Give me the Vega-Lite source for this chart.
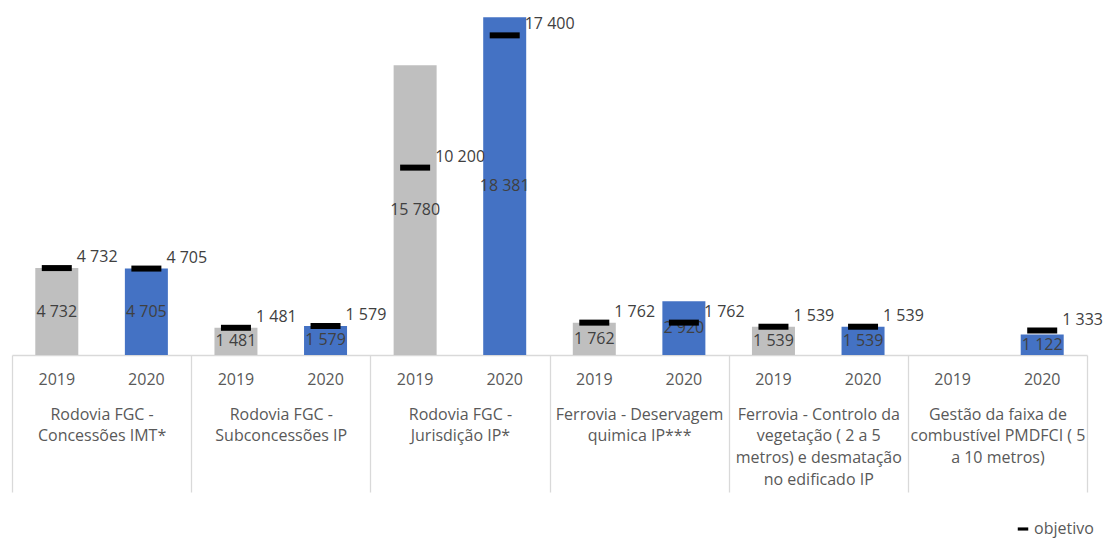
{
  "$schema": "https://vega.github.io/schema/vega-lite/v6.json",
  "width": 1075,
  "height": 338,
  "autosize": {"type": "none"},
  "padding": {"left": 12, "top": 17, "right": 21, "bottom": 183},
  "background": "white",
  "config": {
    "view": {"stroke": null},
    "font": "Open Sans",
    "locale": {"number": {"decimal": ",", "thousands": " ", "grouping": [3], "currency": ["", " €"]}},
    "text": {"font": "Open Sans", "fontSize": 16, "color": "#404040"}
  },
  "data": {
    "values": [
      {"cat": "Rodovia FGC -\nConcessões IMT*", "year": "2019", "value": 4732, "target": 4732},
      {"cat": "Rodovia FGC -\nConcessões IMT*", "year": "2020", "value": 4705, "target": 4705},
      {"cat": "Rodovia FGC -\nSubconcessões IP", "year": "2019", "value": 1481, "target": 1481},
      {"cat": "Rodovia FGC -\nSubconcessões IP", "year": "2020", "value": 1579, "target": 1579},
      {"cat": "Rodovia FGC -\nJurisdição IP*", "year": "2019", "value": 15780, "target": 10200},
      {"cat": "Rodovia FGC -\nJurisdição IP*", "year": "2020", "value": 18381, "target": 17400},
      {"cat": "Ferrovia - Deservagem\nquimica IP***", "year": "2019", "value": 1762, "target": 1762},
      {"cat": "Ferrovia - Deservagem\nquimica IP***", "year": "2020", "value": 2920, "target": 1762},
      {"cat": "Ferrovia - Controlo da\nvegetação ( 2 a 5\nmetros) e desmatação\nno edificado IP", "year": "2019", "value": 1539, "target": 1539},
      {"cat": "Ferrovia - Controlo da\nvegetação ( 2 a 5\nmetros) e desmatação\nno edificado IP", "year": "2020", "value": 1539, "target": 1539},
      {"cat": "Gestão da faixa de\ncombustível PMDFCI ( 5\na 10 metros)", "year": "2019", "value": null, "target": null},
      {"cat": "Gestão da faixa de\ncombustível PMDFCI ( 5\na 10 metros)", "year": "2020", "value": 1122, "target": 1333}
    ]
  },
  "encoding": {
    "x": {
      "field": "cat",
      "type": "nominal",
      "sort": null,
      "scale": {"paddingInner": 0, "paddingOuter": 0},
      "axis": {
        "title": null,
        "labelAngle": 0,
        "labelExpr": "split(datum.label, '\\n')",
        "labelFont": "Open Sans",
        "labelFontSize": 16,
        "labelColor": "#595959",
        "labelLineHeight": 21.7,
        "labelBaseline": "top",
        "labelPadding": -86,
        "labelLimit": 0,
        "labelOverlap": false,
        "tickBand": "extent",
        "tickSize": 137,
        "tickColor": "#d9d9d9",
        "tickWidth": 1.3,
        "domainColor": "#d9d9d9",
        "domainWidth": 1.3
      }
    },
    "xOffset": {"field": "year", "type": "nominal", "scale": {"paddingInner": 0.52, "paddingOuter": 0.26}}
  },
  "layer": [
    {
      "mark": {"type": "bar"},
      "encoding": {
        "y": {"field": "value", "type": "quantitative", "scale": {"domain": [0, 18400]}, "axis": null},
        "fill": {"field": "year", "type": "nominal", "scale": {"domain": ["2019", "2020"], "range": ["#BFBFBF", "#4472C4"]}, "legend": null}
      }
    },
    {
      "mark": {"type": "text", "baseline": "middle"},
      "encoding": {
        "y": {"field": "value", "type": "quantitative", "scale": {"domain": [0, 36800]}, "axis": null},
        "text": {"field": "value", "type": "quantitative", "format": ",d"}
      }
    },
    {
      "mark": {"type": "tick", "size": 30, "thickness": 6, "opacity": 1},
      "encoding": {
        "y": {"field": "target", "type": "quantitative", "scale": {"domain": [0, 18400]}, "axis": null},
        "color": {
          "datum": "objetivo",
          "scale": {"range": ["#000000"]},
          "legend": {
            "title": null,
            "orient": "none",
            "legendX": 1003,
            "legendY": 504,
            "padding": 0,
            "symbolType": "M-1,-0.3H1V0.3H-1Z",
            "symbolSize": 110,
            "symbolFillColor": "#000000",
            "symbolOpacity": 1,
            "symbolStrokeWidth": 0,
            "labelOffset": 3,
            "labelFont": "Open Sans",
            "labelFontSize": 16,
            "labelColor": "#595959"
          }
        }
      }
    },
    {
      "mark": {"type": "text", "align": "left", "baseline": "middle", "dx": 20, "dy": -11},
      "encoding": {
        "y": {"field": "target", "type": "quantitative", "scale": {"domain": [0, 18400]}, "axis": null},
        "text": {"field": "target", "type": "quantitative", "format": ",d"}
      }
    },
    {
      "mark": {"type": "text", "baseline": "middle", "dy": 25, "color": "#595959"},
      "encoding": {
        "y": {"datum": 0, "type": "quantitative", "scale": {"domain": [0, 18400]}, "axis": null},
        "text": {"field": "year", "type": "nominal"}
      }
    }
  ],
  "resolve": {"scale": {"y": "independent"}}
}
